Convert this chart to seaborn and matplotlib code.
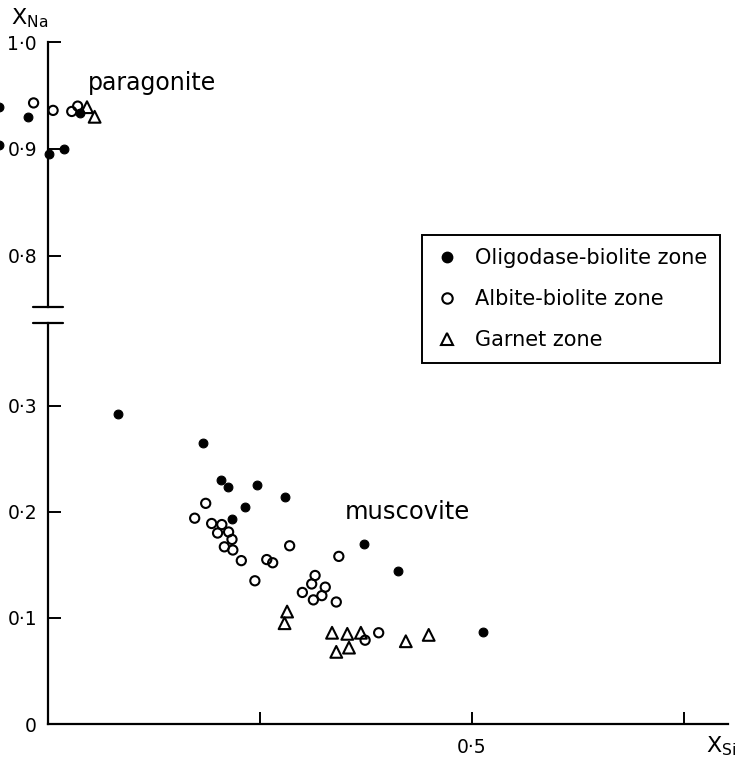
import numpy as np
import pandas as pd
import seaborn as sns
import matplotlib
matplotlib.use("Agg")
import matplotlib.pyplot as plt
from matplotlib.lines import Line2D

# ---------------- data ----------------
oligo_x = [-0.058, -0.024, 0.038, 0.001, 0.019, -0.058,
           0.083, 0.183, 0.204, 0.212, 0.246, 0.279, 0.232, 0.217, 0.373, 0.413, 0.513]
oligo_y = [0.939, 0.930, 0.934, 0.895, 0.900, 0.904,
           0.292, 0.265, 0.230, 0.223, 0.225, 0.214, 0.205, 0.193, 0.170, 0.144, 0.087]

albite_x = [-0.017, 0.006, 0.028, 0.035,
            0.186, 0.173, 0.193, 0.205, 0.200, 0.213, 0.217, 0.208, 0.218, 0.228, 0.258, 0.265,
            0.285, 0.244, 0.343, 0.315, 0.311, 0.327, 0.300, 0.323, 0.313, 0.340, 0.374, 0.390]
albite_y = [0.943, 0.936, 0.935, 0.940,
            0.208, 0.194, 0.189, 0.188, 0.180, 0.181, 0.174, 0.167, 0.164, 0.154, 0.155, 0.152,
            0.168, 0.135, 0.158, 0.140, 0.132, 0.129, 0.124, 0.121, 0.117, 0.115, 0.079, 0.086]

garnet_x = [0.046, 0.055,
            0.282, 0.279, 0.335, 0.353, 0.369, 0.340, 0.355, 0.422, 0.449]
garnet_y = [0.939, 0.930,
            0.106, 0.095, 0.086, 0.085, 0.086, 0.068, 0.072, 0.078, 0.084]

zone_names = ["Oligodase-biolite zone", "Albite-biolite zone", "Garnet zone"]

upper_yticks = [0.8, 0.9, 1.0]
upper_yticklabels = ["0·8", "0·9", "1·0"]
lower_yticks = [0.0, 0.1, 0.2, 0.3]
lower_yticklabels = ["0", "0·1", "0·2", "0·3"]
xticks = [0.25, 0.5, 0.75]
xticklabels = ["", "0·5", ""]

df = pd.concat([
    pd.DataFrame({"XSi": oligo_x, "XNa": oligo_y, "zone": zone_names[0]}),
    pd.DataFrame({"XSi": albite_x, "XNa": albite_y, "zone": zone_names[1]}),
    pd.DataFrame({"XSi": garnet_x, "XNa": garnet_y, "zone": zone_names[2]}),
], ignore_index=True)

# ---------------- figure ----------------
sns.set_style("ticks")
plt.rcParams["font.family"] = ["DejaVu Sans"]
plt.rcParams["text.color"] = "black"
plt.rcParams["axes.labelcolor"] = "black"
plt.rcParams["xtick.color"] = "black"
plt.rcParams["ytick.color"] = "black"
plt.rcParams["axes.edgecolor"] = "black"

W, H = 744, 764
fig = plt.figure(figsize=(W / 100, H / 100), dpi=100)

def fx(px):
    return px / W

def fy(py):
    return 1 - py / H

x0, x1 = 48, 728
ax_lo = fig.add_axes([fx(x0), fy(724), fx(x1) - fx(x0), fy(323) - fy(724)])
ax_hi = fig.add_axes([fx(x0), fy(307), fx(x1) - fx(x0), fy(42) - fy(307)])

XMAX = 0.802
ax_lo.set_xlim(0, XMAX)
ax_hi.set_xlim(0, XMAX)
ax_lo.set_ylim(0, 0.378)
ax_hi.set_ylim(0.752, 1.0)

styles = {
    zone_names[0]: dict(marker="o", s=40, color="black", edgecolor="black", linewidth=0.8),
    zone_names[1]: dict(marker="o", s=44, facecolor="none", edgecolor="black", linewidth=1.5),
    zone_names[2]: dict(marker="^", s=72, facecolor="none", edgecolor="black", linewidth=1.5),
}

for ax, sel in [(ax_lo, df["XNa"] < 0.5), (ax_hi, df["XNa"] >= 0.5)]:
    sub = df[sel]
    for z in zone_names:
        d = sub[sub["zone"] == z]
        sns.scatterplot(data=d, x="XSi", y="XNa", ax=ax, legend=False,
                        clip_on=False, zorder=3, **styles[z])
    ax.set_xlabel("")
    ax.set_ylabel("")

lw = 1.6
for ax in (ax_lo, ax_hi):
    for sp in ["top", "right"]:
        ax.spines[sp].set_visible(False)
    ax.spines["left"].set_linewidth(lw)
    ax.tick_params(axis="y", direction="in", length=9, width=1.4,
                   labelsize=13.5, pad=8)
ax_lo.spines["bottom"].set_linewidth(lw)
ax_hi.spines["bottom"].set_visible(False)
ax_hi.tick_params(axis="x", bottom=False, labelbottom=False)

ax_lo.set_yticks(lower_yticks)
ax_lo.set_yticklabels(lower_yticklabels)
ax_hi.set_yticks(upper_yticks)
ax_hi.set_yticklabels(upper_yticklabels)
ax_lo.set_xticks(xticks)
ax_lo.set_xticklabels(xticklabels)
ax_lo.tick_params(axis="x", direction="in", length=9, width=1.4,
                  labelsize=13.5, pad=10)

# axis break marks
for py in (307, 323):
    fig.add_artist(Line2D([fx(33), fx(63)], [fy(py), fy(py)],
                          color="black", linewidth=1.6))

# axis titles
fig.text(fx(11), fy(18), r"X$_{\mathrm{Na}}$", fontsize=16, ha="left", va="center")
fig.text(fx(706), fy(746), r"X$_{\mathrm{Si}}$", fontsize=16, ha="left", va="center")

# annotations
ax_hi.text(0.047, 0.962, "paragonite", fontsize=17, ha="left", va="center")
ax_lo.text(0.350, 0.200, "muscovite", fontsize=17.5, ha="left", va="center")

# legend
handles = [
    Line2D([], [], linestyle="none", marker="o", markersize=7.5, color="black"),
    Line2D([], [], linestyle="none", marker="o", markersize=7.5,
           markerfacecolor="none", markeredgecolor="black", markeredgewidth=1.5),
    Line2D([], [], linestyle="none", marker="^", markersize=8.5,
           markerfacecolor="none", markeredgecolor="black", markeredgewidth=1.5),
]
leg = fig.legend(handles, zone_names, loc="upper left",
                 bbox_to_anchor=(fx(422), fy(235)), fontsize=15,
                 frameon=True, fancybox=False, framealpha=1,
                 edgecolor="black", labelspacing=1.02, handletextpad=0.7,
                 borderpad=0.62, handlelength=1.2, borderaxespad=0)
leg.get_frame().set_linewidth(1.4)

fig.savefig("out.png", dpi=100)
